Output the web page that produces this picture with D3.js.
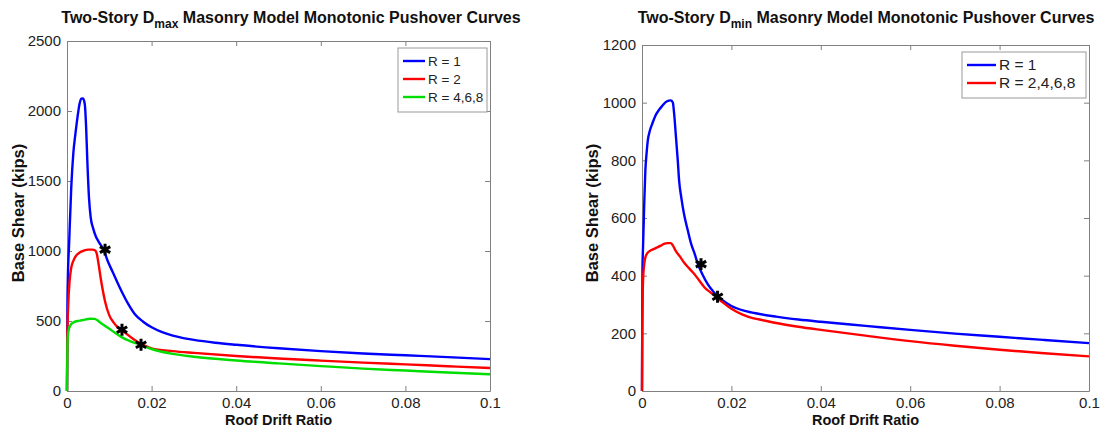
<!DOCTYPE html>
<html lang="en">
<head>
<meta charset="UTF-8">
<title>Two-Story Masonry Model Monotonic Pushover Curves</title>
<style>
    body { margin: 0; background: #fff; font-family: "Liberation Sans", Arial, sans-serif; }
    .tick text { font-size: 15px; fill: #222; }
    .title { font-size: 16px; font-weight: bold; fill: #111; }
    .axis-label { font-size: 14.5px; font-weight: bold; fill: #111; }
    .axis-label.yl { font-size: 16.5px; }
    .legend text { fill: #222; }
</style>
</head>
<body>
<div id="chart"></div>
<script src="https://d3js.org/d3.v7.min.js"></script>
<script>
// ---- data (roof drift ratio, base shear in kips) ----
var dmaxR1X = [0, 0.0001, 0.0002, 0.0005, 0.001, 0.0015, 0.002, 0.0025, 0.003, 0.0034, 0.0038, 0.0042, 0.0045, 0.0048, 0.0052, 0.0056, 0.0062, 0.0068, 0.0076, 0.0086, 0.0096, 0.0108, 0.012, 0.0131, 0.0145, 0.016, 0.018, 0.02, 0.0225, 0.025, 0.0275, 0.03, 0.035, 0.04, 0.05, 0.06, 0.07, 0.08, 0.09, 0.1];
var dmaxR1Y = [0, 600, 800, 1050, 1450, 1700, 1840, 1960, 2055, 2088, 2090, 2050, 1900, 1650, 1380, 1240, 1160, 1105, 1060, 1013, 930, 850, 770, 700, 620, 550, 495, 455, 420, 395, 378, 365, 345, 330, 305, 285, 268, 255, 242, 228];

var dmaxR2X = [0, 0.0001, 0.0003, 0.0006, 0.001, 0.0015, 0.002, 0.003, 0.004, 0.005, 0.006, 0.0066, 0.007, 0.0075, 0.008, 0.009, 0.010, 0.011, 0.012, 0.013, 0.014, 0.016, 0.018, 0.02, 0.025, 0.03, 0.04, 0.05, 0.06, 0.07, 0.08, 0.09, 0.1];
var dmaxR2Y = [0, 420, 620, 780, 880, 930, 960, 990, 1003, 1010, 1010, 1005, 985, 900, 800, 640, 540, 490, 455, 435, 410, 365, 330, 305, 285, 272, 250, 232, 217, 203, 190, 177, 164];

var dmaxR4X = [0, 0.0001, 0.0003, 0.0007, 0.0015, 0.0025, 0.0035, 0.0045, 0.0055, 0.0065, 0.0072, 0.0078, 0.009, 0.0101, 0.0115, 0.013, 0.015, 0.0175, 0.02, 0.025, 0.03, 0.04, 0.05, 0.06, 0.07, 0.08, 0.09, 0.1];
var dmaxR4Y = [0, 330, 420, 465, 490, 500, 505, 512, 516, 515, 505, 490, 465, 443, 412, 383, 355, 328, 300, 265, 245, 218, 197, 178, 160, 146, 132, 120];

var dminR1X = [0, 0.0001, 0.00023, 0.0005, 0.00075, 0.001, 0.0013, 0.0018, 0.0023, 0.003, 0.0038, 0.0046, 0.0053, 0.006, 0.0065, 0.0069, 0.0072, 0.0076, 0.008, 0.0083, 0.0088, 0.0094, 0.0102, 0.011, 0.0118, 0.0125, 0.0135, 0.0147, 0.0158, 0.0168, 0.018, 0.02, 0.023, 0.026, 0.03, 0.035, 0.04, 0.05, 0.06, 0.07, 0.08, 0.09, 0.1];
var dminR1Y = [0, 420, 498, 650, 765, 820, 869, 905, 927, 955, 975, 990, 1002, 1007, 1008, 1000, 960, 880, 800, 730, 670, 614, 560, 510, 475, 440, 405, 371, 348, 330, 315, 295, 278, 268, 258, 248, 240, 226, 212, 199, 188, 177, 166];

var dminR2X = [0, 0.00005, 0.00023, 0.0005, 0.00075, 0.0012, 0.0019, 0.0027, 0.0034, 0.0042, 0.0049, 0.0057, 0.0064, 0.0069, 0.0075, 0.0085, 0.0094, 0.0105, 0.0117, 0.0128, 0.014, 0.0155, 0.0168, 0.018, 0.02, 0.0225, 0.025, 0.026, 0.03, 0.035, 0.04, 0.05, 0.06, 0.07, 0.08, 0.09, 0.1];
var dminR2Y = [0, 200, 382, 440, 463, 478, 487, 493, 498, 504, 510, 513, 513, 505, 487, 466, 446, 426, 406, 383, 359, 340, 324, 308, 285, 265, 252, 249, 236, 223, 212, 192, 173, 157, 143, 131, 120];

// black asterisk markers on the curves
var dmaxMarkX = [0.009, 0.013, 0.0175];
var dmaxMarkY = [1010, 438, 330];
var dminMarkX = [0.0132, 0.0169];
var dminMarkY = [440, 327];

var xTicks = [0, 0.02, 0.04, 0.06, 0.08, 0.1];
var dmaxYTicks = [0, 500, 1000, 1500, 2000, 2500];
var dminYTicks = [0, 200, 400, 600, 800, 1000, 1200];

var dmaxNames = ["R = 1", "R = 2", "R = 4,6,8"];
var dminNames = ["R = 1", "R = 2,4,6,8"];
var colors = ["#0000ff", "#ff0000", "#00dd00"];

var svg = d3.select("#chart").append("svg")
    .attr("width", 1103)
    .attr("height", 433);

function zip(xs, ys) {
    return xs.map(function(x, i) { return [x, ys[i]]; });
}

function panel(p) {
    var x = d3.scaleLinear().domain([0, 0.1]).range([p.left, p.right]);
    var y = d3.scaleLinear().domain([0, p.ymax]).range([p.bottom, p.top]);
    var g = svg.append("g");

    var fmtX = function(d) { return d === 0 ? "0" : String(+d.toFixed(2)); };

    // axes, box style with inward ticks
    g.append("g").attr("transform", "translate(0," + p.bottom + ")")
        .call(d3.axisBottom(x).tickValues(xTicks).tickFormat(fmtX).tickSizeInner(-5).tickSizeOuter(0).tickPadding(6));
    g.append("g").attr("transform", "translate(0," + p.top + ")")
        .call(d3.axisTop(x).tickValues(xTicks).tickFormat("").tickSizeInner(-5).tickSizeOuter(0));
    g.append("g").attr("transform", "translate(" + p.left + ",0)")
        .call(d3.axisLeft(y).tickValues(p.yTicks).tickFormat(d3.format("d")).tickSizeInner(-5).tickSizeOuter(0).tickPadding(6));
    g.append("g").attr("transform", "translate(" + p.right + ",0)")
        .call(d3.axisRight(y).tickValues(p.yTicks).tickFormat("").tickSizeInner(-5).tickSizeOuter(0));
    g.selectAll(".domain, .tick line").attr("stroke", "#808080");
    g.selectAll(".tick text").attr("font-family", null).attr("font-size", null);

    // curves
    var line = d3.line()
        .x(function(d) { return x(d[0]); })
        .y(function(d) { return y(d[1]); })
        .curve(d3.curveMonotoneX);
    p.series.forEach(function(s, i) {
        g.append("path")
            .attr("d", line(zip(s[0], s[1])))
            .attr("fill", "none")
            .attr("stroke", colors[i])
            .attr("stroke-width", 2.4)
            .attr("stroke-linejoin", "round");
    });

    // markers
    var star = d3.symbol().type(d3.symbolAsterisk).size(100);
    zip(p.markX, p.markY).forEach(function(m) {
        g.append("path")
            .attr("d", star())
            .attr("transform", "translate(" + x(m[0]) + "," + y(m[1]) + ")")
            .attr("stroke", "#000")
            .attr("stroke-width", 3)
            .attr("fill", "none");
    });

    // title with subscript
    var t = g.append("text").attr("class", "title")
        .attr("x", p.titleX).attr("y", 23)
        .attr("text-anchor", "middle");
    t.append("tspan").text("Two-Story D");
    t.append("tspan").attr("dy", 5).style("font-size", "12px").text(p.sub);
    t.append("tspan").attr("dy", -5).text(" Masonry Model Monotonic Pushover Curves");

    g.append("text").attr("class", "axis-label")
        .attr("x", (p.left + p.right) / 2).attr("y", 425)
        .attr("text-anchor", "middle").text("Roof Drift Ratio");
    g.append("text").attr("class", "axis-label yl")
        .attr("transform", "translate(" + p.ylabX + ",213) rotate(-90)")
        .attr("text-anchor", "middle").text("Base Shear (kips)");

    // legend
    var lg = g.append("g").attr("class", "legend").style("font-size", p.legFont + "px");
    lg.append("rect")
        .attr("x", p.legX).attr("y", p.top + 7)
        .attr("width", p.legW).attr("height", 10 + 18 * p.names.length)
        .attr("fill", "#fff").attr("stroke", "#999");
    p.names.forEach(function(n, i) {
        var ly = p.top + 20 + 18 * i;
        lg.append("line")
            .attr("x1", p.legX + 5).attr("x2", p.legX + 5 + p.legLine)
            .attr("y1", ly).attr("y2", ly)
            .attr("stroke", colors[i]).attr("stroke-width", 2.4);
        lg.append("text").attr("x", p.legX + 8 + p.legLine).attr("y", ly + 5).text(n);
    });
}

panel({
    left: 67, right: 490, top: 41, bottom: 391, ymax: 2500,
    yTicks: dmaxYTicks, sub: "max", ylabX: 24, titleX: 291,
    series: [[dmaxR1X, dmaxR1Y], [dmaxR2X, dmaxR2Y], [dmaxR4X, dmaxR4Y]],
    markX: dmaxMarkX, markY: dmaxMarkY,
    names: dmaxNames, legX: 398, legW: 89, legFont: 13.5, legLine: 22
});

panel({
    left: 642, right: 1089, top: 45, bottom: 391, ymax: 1200,
    yTicks: dminYTicks, sub: "min", ylabX: 598, titleX: 866,
    series: [[dminR1X, dminR1Y], [dminR2X, dminR2Y]],
    markX: dminMarkX, markY: dminMarkY,
    names: dminNames, legX: 962, legW: 124, legFont: 15.5, legLine: 29
});
</script>
</body>
</html>
